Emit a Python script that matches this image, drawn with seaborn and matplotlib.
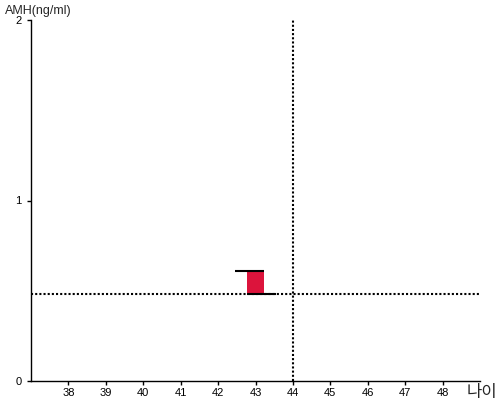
import matplotlib
matplotlib.use("Agg")
import matplotlib.pyplot as plt
import seaborn as sns

# data
ages = [38, 39, 40, 41, 42, 43, 44, 45, 46, 47, 48]
amh_ticks = [0, 1, 2]
patient_age = 43
patient_amh = 0.61
ref_amh = 0.48
ref_age = 44

sns.set_style("white")
plt.rcParams['font.family'] = ['Liberation Sans', 'Noto Sans CJK KR', 'DejaVu Sans']

fig = plt.figure(figsize=(5, 4), dpi=100)
ax = fig.add_axes([31 / 500, 19 / 400, 449 / 500, 361 / 400])

hw = 0.215
ext = 0.32
ax.bar([patient_age], [patient_amh - ref_amh], bottom=[ref_amh], width=2 * hw,
       color='#dc143c', edgecolor='none', zorder=2)
ax.plot([patient_age - hw - ext, patient_age + hw], [patient_amh, patient_amh],
        color='black', lw=1.5, solid_capstyle='butt', zorder=3)
ax.plot([patient_age - hw, patient_age + hw + ext], [ref_amh, ref_amh],
        color='black', lw=1.5, solid_capstyle='butt', zorder=3)

ax.axhline(ref_amh, color='black', lw=1.5, linestyle=(0, (1, 1)), zorder=1)
ax.axvline(ref_age, color='black', lw=1.5, linestyle=(0, (1, 1)), zorder=1)

ax.set_xlim(37, 49)
ax.set_ylim(0, 2)
ax.set_xticks(ages)
ax.set_yticks(amh_ticks)
ax.tick_params(axis='both', length=3, width=1, labelsize=8, pad=2, colors='black',
               bottom=True, left=True)
ax.tick_params(axis='y', pad=4)
sns.despine(ax=ax)
for s in ['left', 'bottom']:
    ax.spines[s].set_color('black')
    ax.spines[s].set_linewidth(1)

fig.text(5 / 500, 1 - 11 / 400, 'AMH(ng/ml)', fontsize=9, va='center', ha='left')
fig.text(497 / 500, 1 - 392 / 400, '나이', fontsize=12, va='center', ha='right')

fig.savefig('out.png', dpi=100)
